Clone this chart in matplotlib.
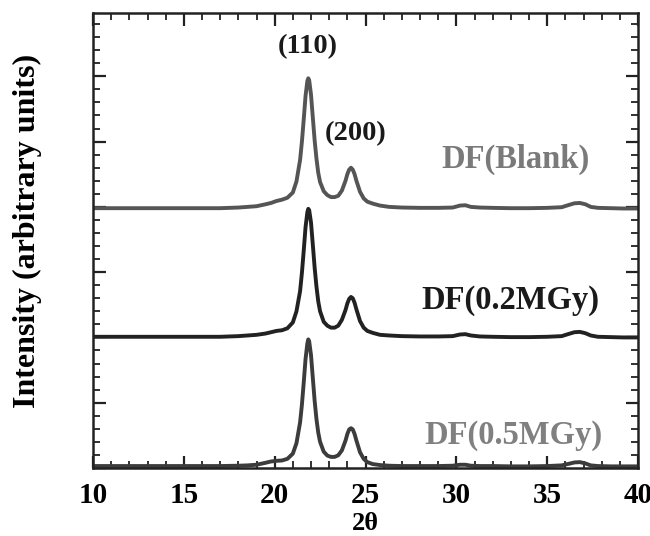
import matplotlib
matplotlib.use("Agg")
import matplotlib.pyplot as plt
from matplotlib.ticker import MultipleLocator, NullFormatter

plt.rcParams['font.family'] = ['Liberation Serif', 'DejaVu Serif']

# 2-theta sample positions (degrees)
two_theta = [10, 12, 14, 16, 17, 18, 18.5, 19, 19.5, 19.8, 20.1, 20.4, 20.7, 21.0,
             21.2, 21.4, 21.5, 21.6, 21.7, 21.8, 21.85, 21.9, 22.0, 22.1, 22.2, 22.3,
             22.4, 22.5, 22.7, 22.9, 23.1, 23.3, 23.5, 23.7, 23.9, 24.0, 24.1, 24.2,
             24.3, 24.4, 24.5, 24.7, 24.9, 25.1, 25.4, 25.8, 26.3, 27, 28, 29, 29.8,
             30.2, 30.5, 30.8, 31.3, 32, 33, 34, 35, 35.8, 36.2, 36.5, 36.8, 37.1,
             37.4, 37.8, 38.5, 39.2, 40]

# Intensities (arbitrary units, curves offset vertically)
df_blank = [3.98, 3.98, 3.98, 3.98, 3.98, 3.99, 4.00, 4.01, 4.04, 4.06, 4.09, 4.11, 4.14, 4.22,
            4.39, 4.72, 5.00, 5.34, 5.70, 5.93, 5.97, 5.94, 5.72, 5.37, 5.02, 4.74,
            4.52, 4.38, 4.24, 4.18, 4.15, 4.15, 4.17, 4.25, 4.40, 4.50, 4.57, 4.60,
            4.57, 4.50, 4.40, 4.23, 4.13, 4.08, 4.05, 4.02, 4.00, 3.99, 3.985, 3.985, 3.99,
            4.02, 4.025, 4.00, 3.99, 3.985, 3.98, 3.98, 3.985, 3.995, 4.03, 4.055, 4.06, 4.04,
            4.00, 3.985, 3.98, 3.975, 3.975]

df_02mgy = [2.01, 2.01, 2.01, 2.01, 2.01, 2.02, 2.03, 2.04, 2.06, 2.08, 2.10, 2.11, 2.14, 2.23,
            2.40, 2.71, 2.99, 3.33, 3.69, 3.92, 3.97, 3.95, 3.76, 3.42, 3.07, 2.78,
            2.55, 2.40, 2.24, 2.18, 2.15, 2.15, 2.18, 2.27, 2.42, 2.52, 2.59, 2.62,
            2.60, 2.53, 2.43, 2.25, 2.15, 2.10, 2.07, 2.04, 2.03, 2.02, 2.015, 2.015, 2.02,
            2.045, 2.05, 2.03, 2.015, 2.01, 2.005, 2.005, 2.01, 2.02, 2.055, 2.08, 2.085, 2.065,
            2.03, 2.01, 2.005, 2.00, 2.00]

df_05mgy = [0.03, 0.03, 0.03, 0.03, 0.03, 0.035, 0.04, 0.05, 0.08, 0.10, 0.11, 0.115, 0.14, 0.22,
            0.38, 0.70, 0.97, 1.31, 1.67, 1.91, 1.97, 1.94, 1.73, 1.38, 1.03, 0.75,
            0.54, 0.40, 0.25, 0.19, 0.17, 0.17, 0.195, 0.27, 0.42, 0.52, 0.59, 0.61,
            0.59, 0.52, 0.42, 0.24, 0.14, 0.09, 0.06, 0.045, 0.035, 0.03, 0.03, 0.03, 0.035,
            0.05, 0.05, 0.035, 0.03, 0.03, 0.025, 0.025, 0.03, 0.04, 0.065, 0.085, 0.09, 0.07,
            0.04, 0.03, 0.025, 0.025, 0.025]

series_labels = ["DF(Blank)", "DF(0.2MGy)", "DF(0.5MGy)"]
peak_labels = ["(110)", "(200)"]

fig = plt.figure(figsize=(6.5, 5.36), dpi=100)
ax = fig.add_axes([93/650, 68/536, 545/650, 455/536])

ax.plot(two_theta, df_blank, color="#555555", lw=2.8, solid_joinstyle="round")
ax.plot(two_theta, df_02mgy, color="#222222", lw=2.8, solid_joinstyle="round")
ax.plot(two_theta, df_05mgy, color="#3c3c3c", lw=2.8, solid_joinstyle="round")

ax.set_xlim(10, 40)
ax.set_ylim(0, 6.97)

ax.xaxis.set_major_locator(MultipleLocator(5))
ax.xaxis.set_minor_locator(MultipleLocator(1))
ax.yaxis.set_major_locator(MultipleLocator(1))
ax.yaxis.set_minor_locator(MultipleLocator(0.2))
ax.yaxis.set_major_formatter(NullFormatter())

ax.tick_params(which="both", direction="in", top=True, right=True, color="#222222")
ax.tick_params(which="major", length=9, width=1.6, labelsize=21, pad=10)
ax.tick_params(which="minor", length=5, width=1.3)
for lab in ax.get_xticklabels():
    lab.set_fontweight("bold")
for s in ax.spines.values():
    s.set_linewidth(1.8)
    s.set_color("#222222")

ax.set_ylabel("Intensity (arbitrary units)", fontsize=23, fontweight="bold")
ax.yaxis.set_label_coords(-0.094, 0.52)
ax.set_xlabel("2θ", fontsize=19, fontweight="bold", va="center")
ax.xaxis.set_label_coords(0.5, -0.121)

ax.text(21.8, 6.45, peak_labels[0], fontsize=20.5, fontweight="bold", ha="center", va="center", color="#1a1a1a")
ax.text(24.45, 5.13, peak_labels[1], fontsize=20.5, fontweight="bold", ha="center", va="center", color="#1a1a1a")
ax.text(33.28, 4.72, series_labels[0], fontsize=23.5, fontweight="bold", ha="center", va="center", color="#7a7a7a")
ax.text(33.0, 2.57, series_labels[1], fontsize=23.5, fontweight="bold", ha="center", va="center", color="#1a1a1a")
ax.text(33.17, 0.505, series_labels[2], fontsize=23.5, fontweight="bold", ha="center", va="center", color="#808080")

fig.savefig("out.png", dpi=100)
